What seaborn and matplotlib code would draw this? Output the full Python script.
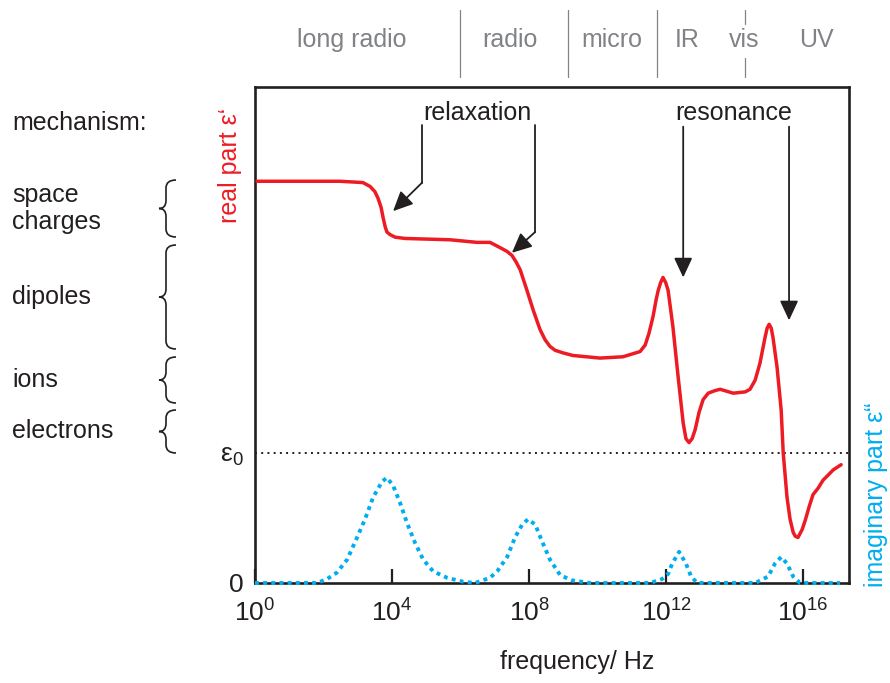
import numpy as np
import pandas as pd
import matplotlib
matplotlib.use('Agg')
import matplotlib.pyplot as plt
from matplotlib.path import Path
from matplotlib.patches import PathPatch
from matplotlib.transforms import blended_transform_factory
import seaborn as sns

# real part eps' (x = log10 of frequency, y in units of eps0)
real_logf = [0.06, 1.31, 2.48, 3.15, 3.36, 3.50, 3.59, 3.68, 3.74, 3.80, 3.85, 3.94,
             4.09, 4.38, 5.69, 6.48, 6.86, 7.15, 7.36, 7.50, 7.62, 7.74, 7.94, 8.12,
             8.32, 8.47, 8.61, 8.76, 8.99, 9.28, 10.07, 10.74, 11.24, 11.39, 11.50,
             11.62, 11.71, 11.77, 11.84, 11.91, 11.99, 12.06, 12.20, 12.35, 12.50,
             12.58, 12.67, 12.76, 12.85, 12.96, 13.08, 13.23, 13.43, 13.58, 13.96,
             14.31, 14.45, 14.60, 14.74, 14.89, 14.95, 15.01, 15.07, 15.12, 15.24,
             15.36, 15.42, 15.53, 15.62, 15.71, 15.77, 15.85, 15.97, 16.06, 16.18,
             16.29, 16.44, 16.58, 16.88, 17.11]
real_eps = [3.09, 3.09, 3.09, 3.08, 3.05, 3.01, 2.96, 2.89, 2.81, 2.74, 2.70, 2.68,
            2.66, 2.65, 2.64, 2.62, 2.62, 2.58, 2.55, 2.52, 2.47, 2.41, 2.25, 2.10,
            1.95, 1.87, 1.82, 1.79, 1.77, 1.75, 1.73, 1.74, 1.78, 1.83, 1.92,
            2.05, 2.18, 2.25, 2.31, 2.35, 2.31, 2.25, 1.97, 1.59, 1.23,
            1.11, 1.08, 1.11, 1.18, 1.31, 1.41, 1.46, 1.48, 1.49, 1.46,
            1.47, 1.49, 1.56, 1.69, 1.89, 1.96, 1.99, 1.96, 1.89, 1.66,
            1.33, 1.00, 0.66, 0.49, 0.39, 0.36, 0.35, 0.41, 0.48, 0.59,
            0.68, 0.73, 0.79, 0.87, 0.91]

# imaginary part eps''
imag_logf = [0.00, 1.81, 2.10, 2.39, 2.69, 2.98, 3.21, 3.45, 3.71, 3.85, 4.03, 4.23,
             4.44, 4.67, 4.91, 5.20, 5.61, 6.07, 6.42, 6.86, 7.07, 7.36, 7.59, 7.80,
             7.97, 8.18, 8.38, 8.61, 8.91, 9.26, 9.78, 11.53, 11.88, 12.06, 12.18,
             12.38, 12.58, 12.73, 12.91, 14.60, 14.98, 15.18, 15.36, 15.53, 15.71,
             15.91, 17.08]
imag_eps = [0.00, 0.00, 0.03, 0.08, 0.18, 0.35, 0.49, 0.66, 0.78, 0.81, 0.75, 0.62,
            0.46, 0.31, 0.18, 0.09, 0.04, 0.01, 0.00, 0.04, 0.09, 0.20, 0.35, 0.45,
            0.49, 0.45, 0.32, 0.18, 0.06, 0.02, 0.00, 0.00, 0.03, 0.07, 0.15,
            0.24, 0.15, 0.05, 0.00, 0.00, 0.05, 0.15, 0.20, 0.15, 0.05,
            0.00, 0.00]

band_names = ['long radio', 'radio', 'micro', 'IR', 'vis', 'UV']
band_centers = [2.83, 7.45, 10.42, 12.61, 14.28, 16.38]
band_edges = [5.97, 9.14, 11.73]
vis_edge = 14.31

mechanisms = ['space\ncharges', 'dipoles', 'ions', 'electrons']
mech_spans = [(180, 237), (245, 349), (357, 403), (410, 453)]  # brace extent, px

tick_exp = [0, 4, 8, 12, 16]

RED = '#ED1C24'
BLUE = '#00AEEF'
BLACK = '#231F20'
GRAY = '#808285'
W, H = 890, 683

sns.set_style('white')
plt.rcParams['font.family'] = ['Liberation Sans', 'DejaVu Sans']
plt.rcParams['font.size'] = 18

df_real = pd.DataFrame({'f': 10.0 ** np.array(real_logf), 'eps': real_eps})
df_imag = pd.DataFrame({'f': 10.0 ** np.array(imag_logf), 'eps': imag_eps})

fig = plt.figure(figsize=(W / 100, H / 100), dpi=100)
ax = fig.add_axes([255 / W, 1 - 583 / H, 594 / W, 496 / H])
ax.set_xscale('log')

sns.lineplot(data=df_real, x='f', y='eps', color=RED, lw=2.5, estimator=None,
             sort=False, ax=ax, zorder=3)
sns.lineplot(data=df_imag, x='f', y='eps', color=BLUE, lw=2.8, estimator=None,
             sort=False, ax=ax, linestyle=(0, (1, 1.1)), dash_capstyle='butt',
             clip_on=False, zorder=4)
ax.axhline(1, color=BLACK, lw=1.4, ls=(0, (1, 2.2)), zorder=2)

ax.set_xlim(1, 10 ** 17.34)
ax.set_ylim(0, 3.815)
ax.set_xticks([10.0 ** e for e in tick_exp])
ax.set_xticklabels([r'$\mathregular{10^{%d}}$' % e for e in tick_exp])
ax.xaxis.set_minor_locator(matplotlib.ticker.NullLocator())
ax.tick_params(axis='x', bottom=True, direction='in', length=10, width=1.6,
               color=BLACK, pad=12, labelsize=19, labelcolor=BLACK)
ax.set_yticks([0, 1])
ax.set_yticklabels(['0', r'$\mathregular{ε_0}$'])
ax.tick_params(axis='y', left=True, length=0, pad=8, labelsize=19,
               labelcolor=BLACK)
for s in ax.spines.values():
    s.set_linewidth(1.9)
    s.set_color(BLACK)
ax.set_xlabel('')
ax.set_ylabel('')

ax.text(0.542, -0.16, 'frequency/ Hz', transform=ax.transAxes, ha='center',
        va='center', color=BLACK)
ax.text(-0.042, 0.841, 'real part ε‘', transform=ax.transAxes, ha='center',
        va='center', rotation=90, color=RED)
ax.text(1.045, 0.177, 'imaginary part ε“', transform=ax.transAxes, ha='center',
        va='center', rotation=90, color=BLUE)

# relaxation / resonance arrows
arrow_kw = dict(arrowstyle='-|>,head_length=0.6,head_width=0.28', color=BLACK,
                lw=1.3, mutation_scale=20, shrinkA=0, shrinkB=0)


def pointer(x, y_top, y_bend, x_tip, y_tip):
    ax.plot([10 ** x, 10 ** x], [y_top, y_bend], color=BLACK, lw=1.3)
    ax.annotate('', xy=(10 ** x_tip, y_tip), xytext=(10 ** x, y_bend),
                arrowprops=arrow_kw)


ax.text(10 ** 6.48, 3.615, 'relaxation', ha='center', va='center', color=BLACK)
pointer(4.88, 3.52, 3.08, 4.03, 2.86)
pointer(8.18, 3.52, 2.70, 7.50, 2.54)
ax.text(10 ** 13.96, 3.615, 'resonance', ha='center', va='center', color=BLACK)
pointer(12.50, 3.51, 3.51, 12.50, 2.35)
pointer(15.59, 3.51, 3.51, 15.59, 2.02)

# spectral bands on top
trans = blended_transform_factory(ax.transData, fig.transFigure)
for e in band_edges:
    ax.plot([10 ** e, 10 ** e], [1 - 10 / H, 1 - 77 / H], transform=trans,
            color=GRAY, lw=0.9, clip_on=False)
for y0, y1 in [(10, 24), (58, 77)]:
    ax.plot([10 ** vis_edge, 10 ** vis_edge], [1 - y0 / H, 1 - y1 / H],
            transform=trans, color=GRAY, lw=0.9, clip_on=False)
for name, c in zip(band_names, band_centers):
    ax.text(10 ** c, 1 - 40 / H, name, transform=trans, ha='center', va='center',
            color=GRAY)

# mechanism labels with braces
fig.text(12 / W, 1 - 123 / H, 'mechanism:', ha='left', va='center', color=BLACK)


def brace(y0, y1, xr=176, xs=166, xt=159, r=8):
    ym = (y0 + y1) / 2
    pts = [(xr, y0), (xs, y0), (xs, y0 + r), (xs, ym - r), (xs, ym), (xt, ym),
           (xs, ym), (xs, ym + r), (xs, y1 - r), (xs, y1), (xr, y1)]
    codes = [Path.MOVETO, Path.CURVE3, Path.CURVE3, Path.LINETO, Path.CURVE3,
             Path.CURVE3, Path.CURVE3, Path.CURVE3, Path.LINETO, Path.CURVE3,
             Path.CURVE3]
    verts = [(x / W, 1 - y / H) for x, y in pts]
    fig.add_artist(PathPatch(Path(verts, codes), transform=fig.transFigure,
                             fill=False, edgecolor=BLACK, lw=1.2))


for name, (y0, y1) in zip(mechanisms, mech_spans):
    fig.text(12 / W, 1 - (y0 + y1) / 2 / H, name, ha='left', va='center',
             color=BLACK, linespacing=1.15)
    brace(y0, y1)

fig.savefig('out.png', dpi=100)
